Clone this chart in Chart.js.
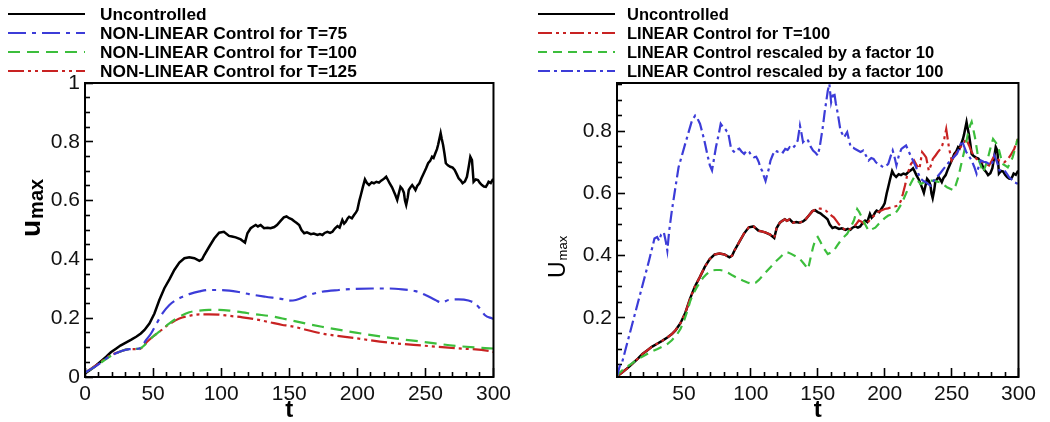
<!DOCTYPE html>
<html>
<head>
<meta charset="utf-8">
<script src="https://cdn.jsdelivr.net/npm/chart.js@4.4.1/dist/chart.umd.min.js"></script>
<style>
  html, body { margin: 0; padding: 0; background: #fff; }
  #wrap { position: relative; width: 1050px; height: 422px; }
  .box { position: absolute; top: 0; width: 525px; height: 422px; }
</style>
</head>
<body>
<div id="wrap">
  <div class="box" style="left:0"><canvas id="leftChart"></canvas></div>
  <div class="box" style="left:525px"><canvas id="rightChart"></canvas></div>
</div>
<script>
// ---- data (t, u_max) ----
var uncT = [0,4,8.3,12,15.6,19,23,26,30,34,37.6,41,43.7,47.3,51,54.6,58.3,62,65.6,69.3,73,76.6,80.3,84,86,87.6,91.2,94.9,98.5,102,105.8,108,110.7,114.4,117.5,119.3,121.7,123.5,125.4,127,129,131.5,134,136.3,139,141,143.5,146,148,
  150,152,153.7,155.5,157.3,159,161,163,165.9,168,170.7,172.5,174.4,176,178,180,181.7,183.5,185.4,187,189,190.3,191.5,193,194,196,197.6,199,200,201.5,202.6,204,205.6,207,208.6,210.5,212.2,214,215.9,217.5,218.8,220,221.2,222.5,223.7,225.5,226.9,228,229.3,230.5,231.7,233,234.2,235,235.9,237,237.8,239,240.3,241.5,242.7,244,245.6,247,248.8,250.5,252,253.5,254.9,256,257.3,258.5,259.3,260.3,261.2,262,263,264,265,266.5,268.3,270,271.5,273,274.4,276,277.3,279,280.5,281.8,283,284.2,285.4,287,288.6,290,291.5,293,294.4,295.5,296.4,298,299.3,300];
var uncU = [0.012,0.025,0.040,0.055,0.069,0.084,0.097,0.107,0.117,0.127,0.137,0.148,0.160,0.182,0.216,0.262,0.302,0.332,0.364,0.389,0.404,0.407,0.404,0.395,0.400,0.415,0.443,0.471,0.491,0.494,0.480,0.478,0.475,0.468,0.457,0.489,0.506,0.512,0.517,0.512,0.517,0.506,0.508,0.506,0.510,0.517,0.530,0.543,0.546,
  0.540,0.536,0.530,0.524,0.517,0.500,0.489,0.492,0.486,0.488,0.483,0.486,0.483,0.490,0.494,0.490,0.494,0.505,0.513,0.508,0.534,0.522,0.528,0.540,0.545,0.540,0.551,0.560,0.568,0.600,0.619,0.645,0.672,0.660,0.653,0.662,0.659,0.664,0.661,0.668,0.672,0.676,0.681,0.670,0.659,0.645,0.630,0.618,0.602,0.625,0.647,0.640,0.627,0.600,0.585,0.610,0.636,0.645,0.653,0.645,0.636,0.650,0.659,0.675,0.693,0.710,0.727,0.735,0.749,0.745,0.761,0.775,0.789,0.810,0.829,0.810,0.789,0.760,0.727,0.720,0.715,0.712,0.704,0.690,0.676,0.668,0.659,0.665,0.681,0.715,0.749,0.738,0.664,0.672,0.670,0.660,0.653,0.648,0.647,0.655,0.664,0.660,0.670,0.668];

var nl75T = [0,8.3,18,25.4,32.7,40,44.9,48.5,52,57,62,66.8,71.7,76.6,84,91.2,98.5,106,113,120.5,132.7,145,150,154.9,164.6,174,186.6,198.8,211,223,233,242.7,250,257.3,262,267,274.4,281.6,286.5,290,293.8,298.7,300];
var nl75U = [0.015,0.038,0.070,0.086,0.095,0.097,0.126,0.148,0.177,0.217,0.245,0.262,0.273,0.282,0.291,0.296,0.296,0.294,0.289,0.282,0.273,0.265,0.260,0.262,0.279,0.290,0.296,0.300,0.301,0.301,0.298,0.292,0.279,0.262,0.253,0.262,0.264,0.260,0.250,0.233,0.210,0.200,0.198];

var nl100T = [0,8.3,18,25.4,32.7,40,45,49.8,54.6,62,69.3,76.6,84,91,98.5,106,115.6,125.4,135,145,150,162,174,198.8,223,247.5,272,291.5,300];
var nl100U = [0.015,0.038,0.069,0.086,0.095,0.097,0.114,0.137,0.154,0.182,0.205,0.220,0.226,0.228,0.228,0.226,0.220,0.213,0.208,0.199,0.194,0.182,0.171,0.151,0.134,0.120,0.106,0.099,0.097];

var nl125T = [0,8.3,18,25.4,32.7,40,45,49.8,54.6,62,69.3,76.6,84,91,98.5,106,115.6,125.4,135,145,150,174,198.8,223,247.5,272,298.7,300];
var nl125U = [0.015,0.040,0.072,0.086,0.095,0.095,0.117,0.137,0.154,0.180,0.199,0.208,0.213,0.213,0.212,0.208,0.203,0.196,0.187,0.177,0.174,0.148,0.132,0.117,0.107,0.098,0.087,0.085];

// linear control T=100 sits on the uncontrolled curve up to t~148, then:
var linTailT = [148,150,152,153.8,156,158.7,160.5,162,164,166,168.5,171,173.5,176,178.5,180.7,183,185.6,188,190.5,193,195,197.5,200,202.5,205,207.5,210,212,213.6,215.5,217,218.5,219.7,222,224,226,228,229.5,231,233,234.5,236,238,239.6,241.5,243,244.5,246,248,250,252,254,256,257.7,259.5,261,263,265,267,268.6,271,273.5,276,278,280,282,284,285.6,287.5,289.4,292,294,296.8,299,300];
var linTailU = [0.548,0.552,0.551,0.550,0.545,0.534,0.528,0.523,0.512,0.500,0.490,0.480,0.484,0.490,0.500,0.513,0.508,0.500,0.510,0.523,0.532,0.540,0.545,0.550,0.552,0.556,0.558,0.561,0.575,0.598,0.630,0.663,0.680,0.695,0.706,0.690,0.679,0.733,0.725,0.716,0.673,0.690,0.711,0.722,0.732,0.742,0.754,0.775,0.807,0.749,0.706,0.720,0.733,0.745,0.754,0.765,0.775,0.755,0.733,0.720,0.711,0.705,0.700,0.695,0.690,0.705,0.722,0.712,0.706,0.702,0.700,0.710,0.722,0.743,0.770,0.765];

var lin10T = [0,1,5,10.7,15,20.5,25,30.3,34,37.6,41,45,47.5,50,52.5,54.8,57,59.6,62,64.5,67,69.4,72,74,77,79,83,86.5,90,94,97.5,101,103.5,106,108.5,111,114.5,118,122,125.6,128,130.5,133.5,136.6,139.5,142.8,144.5,146.5,148.5,150,152,154,157.5,160,162,164.5,167,169.5,172,174.5,177,179.5,181,183,185.5,188,190.5,193,195.5,198,200.5,202.7,205,207.6,210,212.5,215,217,219.5,222,224.5,227,229.5,232,234.5,237,239.5,241.6,244,246.6,249,251.5,253,255,257,259,261,262.6,264,265,266.3,267.5,268.8,270,271.8,273.5,275.5,277.3,279,281,282.8,284.6,286.3,288,290,292,294,295.6,297.5,299,300];
var lin10U = [0.012,0.020,0.036,0.052,0.066,0.079,0.090,0.100,0.108,0.116,0.128,0.148,0.165,0.190,0.222,0.255,0.278,0.298,0.315,0.330,0.341,0.349,0.353,0.354,0.354,0.352,0.345,0.336,0.328,0.320,0.314,0.309,0.313,0.322,0.334,0.346,0.362,0.379,0.395,0.410,0.410,0.405,0.398,0.390,0.375,0.357,0.390,0.427,0.455,0.460,0.445,0.427,0.405,0.410,0.416,0.432,0.448,0.460,0.470,0.490,0.513,0.550,0.540,0.523,0.500,0.480,0.485,0.490,0.502,0.513,0.522,0.529,0.532,0.534,0.548,0.566,0.590,0.610,0.632,0.652,0.642,0.630,0.636,0.641,0.641,0.641,0.638,0.636,0.628,0.620,0.615,0.610,0.625,0.652,0.690,0.727,0.765,0.800,0.820,0.830,0.805,0.780,0.745,0.711,0.690,0.668,0.690,0.716,0.745,0.775,0.765,0.754,0.725,0.695,0.690,0.684,0.700,0.716,0.745,0.770,0.775];

var lin100T = [0,2,4,8,12,16,20,24,28,30,31.5,33,35,36.5,37.6,39,41,43.5,46,48.5,51,53.5,56,58.4,60,62,64,65.8,67.5,69.4,71,72.5,74,76,77.5,79,80.4,82,83,85,86.5,88,89.5,91.4,93,95,97,98.8,100.5,102.4,104,105,106,107,108.5,110,111,112,113.5,114.7,116.5,118,120,122,124,125.7,127.5,129,131,133,135,136.7,138,139,141,142.8,144.5,146.5,148.5,150,151.5,152.6,154,155,156.5,157.5,158.7,160,161.2,162.3,163.5,165,167,168.5,169.7,171,172,173.5,174.6,176.5,178,180,182,184,186,188,190,191.7,193.5,195,197,199,201,202.7,204.5,206,207.5,208.8,210.5,212.5,214,216,218,220,221.8,223.5,225,227,229,230.8,232.5,234.5,236.5,239,241.5,244,246.5,249,251.5,254,256,257.7,259.5,261,263,265,267,268.7,270.5,272,274,276,278,279.7,281,282,284,285.8,287.5,289.5,291.5,293,295,296.8,298.5,300];
var lin100U = [0.012,0.045,0.060,0.125,0.190,0.255,0.320,0.385,0.455,0.460,0.448,0.468,0.475,0.445,0.416,0.480,0.545,0.615,0.684,0.722,0.760,0.797,0.834,0.850,0.842,0.824,0.792,0.760,0.725,0.690,0.674,0.712,0.750,0.790,0.824,0.815,0.810,0.800,0.797,0.750,0.738,0.732,0.740,0.744,0.735,0.727,0.738,0.733,0.722,0.716,0.718,0.710,0.700,0.684,0.672,0.652,0.640,0.657,0.680,0.706,0.725,0.738,0.734,0.738,0.732,0.743,0.740,0.749,0.744,0.754,0.770,0.818,0.790,0.765,0.775,0.770,0.752,0.738,0.730,0.722,0.750,0.780,0.820,0.856,0.900,0.930,0.952,0.893,0.915,0.925,0.890,0.856,0.802,0.790,0.780,0.790,0.797,0.770,0.749,0.747,0.743,0.738,0.733,0.738,0.722,0.706,0.714,0.711,0.700,0.695,0.690,0.684,0.688,0.695,0.720,0.738,0.715,0.690,0.720,0.743,0.748,0.754,0.735,0.716,0.700,0.684,0.665,0.647,0.640,0.636,0.630,0.625,0.640,0.652,0.665,0.679,0.692,0.706,0.716,0.727,0.748,0.770,0.750,0.733,0.720,0.706,0.685,0.663,0.690,0.706,0.702,0.700,0.695,0.690,0.705,0.722,0.700,0.674,0.676,0.674,0.662,0.652,0.645,0.636,0.633,0.630];

// axis ticks
var tTicksLeft = [0, 50, 100, 150, 200, 250, 300];
var tTicksRight = [50, 100, 150, 200, 250, 300];
var uTicksLeft = [0, 0.2, 0.4, 0.6, 0.8, 1];
var uTicksRight = [0.2, 0.4, 0.6, 0.8];
var tMinor = [10,20,30,40,60,70,80,90,110,120,130,140,160,170,180,190,210,220,230,240,260,270,280,290];
var uMinor = [0.05,0.1,0.15,0.25,0.3,0.35,0.45,0.5,0.55,0.65,0.7,0.75,0.85,0.9,0.95];

var legendLeft = ['Uncontrolled', 'NON-LINEAR Control for T=75', 'NON-LINEAR Control for T=100', 'NON-LINEAR Control for T=125'];
var legendRight = ['Uncontrolled', 'LINEAR Control for T=100', 'LINEAR Control rescaled by a factor 10', 'LINEAR Control rescaled by a factor 100'];

var BLACK = '#000000', BLUE = '#3c3cd8', GREEN = '#3cbe3c', RED = '#c82222';

function pts(t, u) {
  return t.map(function (v, i) { return { x: v, y: u[i] }; });
}

// the red linear curve = uncontrolled up to t=148 + its own tail
var headN = uncT.filter(function (t) { return t < 148; }).length;
var linT = uncT.slice(0, headN).concat(linTailT);
var linU = uncU.slice(0, headN).concat(linTailU);

Chart.defaults.font.family = '"Liberation Sans", Arial, Helvetica, sans-serif';
Chart.defaults.color = '#111';

// frame, legend and axis titles
var decor = {
  id: 'decor',
  afterDraw: function (chart, args, o) {
    var ctx = chart.ctx, a = chart.chartArea;
    ctx.save();
    ctx.lineWidth = 2;
    ctx.strokeStyle = '#000';
    ctx.strokeRect(a.left, a.top, a.right - a.left, a.bottom - a.top);

    // legend
    ctx.font = 'bold ' + o.legendSize + 'px "Liberation Sans", Arial, sans-serif';
    ctx.textBaseline = 'middle';
    ctx.textAlign = 'left';
    chart.data.datasets.forEach(function (ds, k) {
      var y = o.rows[k];
      ctx.strokeStyle = ds.borderColor;
      ctx.lineWidth = 2;
      ctx.setLineDash(ds.borderDash || []);
      ctx.beginPath();
      ctx.moveTo(o.lx0, y);
      ctx.lineTo(o.lx1, y);
      ctx.stroke();
      ctx.setLineDash([]);
      ctx.fillStyle = '#000';
      ctx.fillText(ds.label, o.tx, y + 1);
    });

    // x title
    ctx.font = 'bold 24px "Liberation Sans", Arial, sans-serif';
    ctx.textAlign = 'center';
    ctx.textBaseline = 'alphabetic';
    ctx.fillText('t', (a.left + a.right) / 2, 417);

    // y title with subscript
    ctx.translate(o.yx, o.yy);
    ctx.rotate(-Math.PI / 2);
    ctx.textAlign = 'left';
    ctx.font = o.mainFont;
    ctx.fillText(o.main, 0, 0);
    var w = ctx.measureText(o.main).width;
    ctx.font = o.subFont;
    ctx.fillText('max', w + 1, o.subDy);
    ctx.restore();
  }
};

// inward tick marks drawn by the scales themselves (negative tick length)
function tickGrid(len) {
  return { display: true, drawOnChartArea: false, drawTicks: true, tickLength: -len, tickWidth: 1.6, tickColor: '#000' };
}

function makeChart(id, datasets, xTicks, yTicks, yMin, yMax, padRight, deco) {
  return new Chart(document.getElementById(id), {
    type: 'line',
    data: { datasets: datasets },
    options: {
      responsive: true,
      maintainAspectRatio: false,
      animation: false,
      layout: { padding: { left: 0, right: padRight, top: 83, bottom: 0 } },
      elements: { point: { radius: 0 } },
      plugins: { legend: { display: false }, tooltip: { enabled: false }, decor: deco },
      scales: {
        x: {
          type: 'linear', position: 'bottom', weight: 0, min: 0, max: 300,
          grid: tickGrid(9),
          border: { display: false },
          ticks: { autoSkip: false, maxRotation: 0, padding: 14, font: { size: 21 }, color: '#111',
                   callback: function (v) { return String(v); } },
          afterBuildTicks: function (ax) { ax.ticks = xTicks.map(function (v) { return { value: v }; }); },
          afterFit: function (ax) { ax.height = 45; }
        },
        xMinor: {
          type: 'linear', position: 'bottom', weight: -1, min: 0, max: 300,
          grid: tickGrid(5),
          border: { display: false },
          ticks: { display: false },
          afterBuildTicks: function (ax) { ax.ticks = tMinor.map(function (v) { return { value: v }; }); },
          afterFit: function (ax) { ax.height = 0; }
        },
        y: {
          type: 'linear', position: 'left', weight: 0, min: yMin, max: yMax,
          grid: tickGrid(8),
          border: { display: false },
          ticks: { padding: 13, font: { size: 21 }, color: '#111',
                   callback: function (v) { return String(v); } },
          afterBuildTicks: function (ax) { ax.ticks = yTicks.map(function (v) { return { value: v }; }); },
          afterFit: function (ax) { ax.width = deco.axisW; }
        },
        yMinor: {
          type: 'linear', position: 'left', weight: -1, min: yMin, max: yMax,
          grid: tickGrid(5),
          border: { display: false },
          ticks: { display: false },
          afterBuildTicks: function (ax) {
            ax.ticks = uMinor.filter(function (v) { return v < yMax; }).map(function (v) { return { value: v }; });
          },
          afterFit: function (ax) { ax.width = 0; }
        }
      }
    },
    plugins: [decor]
  });
}

makeChart('leftChart', [
  { label: legendLeft[0], data: pts(uncT, uncU), borderColor: BLACK, borderWidth: 2.5, tension: 0, order: 4 },
  { label: legendLeft[1], data: pts(nl75T, nl75U), borderColor: BLUE, borderWidth: 2.2, borderDash: [18, 6, 4, 6], cubicInterpolationMode: 'monotone', order: 1 },
  { label: legendLeft[2], data: pts(nl100T, nl100U), borderColor: GREEN, borderWidth: 2.2, borderDash: [12, 7], cubicInterpolationMode: 'monotone', order: 2 },
  { label: legendLeft[3], data: pts(nl125T, nl125U), borderColor: RED, borderWidth: 2.2, borderDash: [16, 4, 3, 4, 3, 4], cubicInterpolationMode: 'monotone', order: 3 }
], tTicksLeft, uTicksLeft, 0, 1, 30, {
  axisW: 85, rows: [14, 33, 52, 71], lx0: 8, lx1: 85, tx: 100, legendSize: 17.3,
  yx: 40, yy: 237, main: 'u', mainFont: 'bold 28px "Liberation Sans", Arial, sans-serif',
  subFont: 'bold 20px "Liberation Sans", Arial, sans-serif', subDy: 3
});

makeChart('rightChart', [
  { label: legendRight[0], data: pts(uncT, uncU), borderColor: BLACK, borderWidth: 2.5, tension: 0, order: 4 },
  { label: legendRight[1], data: pts(linT, linU), borderColor: RED, borderWidth: 2.2, borderDash: [14, 4, 3, 4, 3, 4], tension: 0, order: 3 },
  { label: legendRight[2], data: pts(lin10T, lin10U), borderColor: GREEN, borderWidth: 2.2, borderDash: [9, 6], tension: 0, order: 2 },
  { label: legendRight[3], data: pts(lin100T, lin100U), borderColor: BLUE, borderWidth: 2.2, borderDash: [12, 4, 3, 4], tension: 0, order: 1 }
], tTicksRight, uTicksRight, 0.01, 0.955, 23, {
  axisW: 92, rows: [14, 33, 52, 71], lx0: 13, lx1: 90, tx: 102, legendSize: 16.5,
  yx: 40, yy: 278, main: 'U', mainFont: '23px "Liberation Sans", Arial, sans-serif',
  subFont: '13px "Liberation Sans", Arial, sans-serif', subDy: 2
});
</script>
</body>
</html>
